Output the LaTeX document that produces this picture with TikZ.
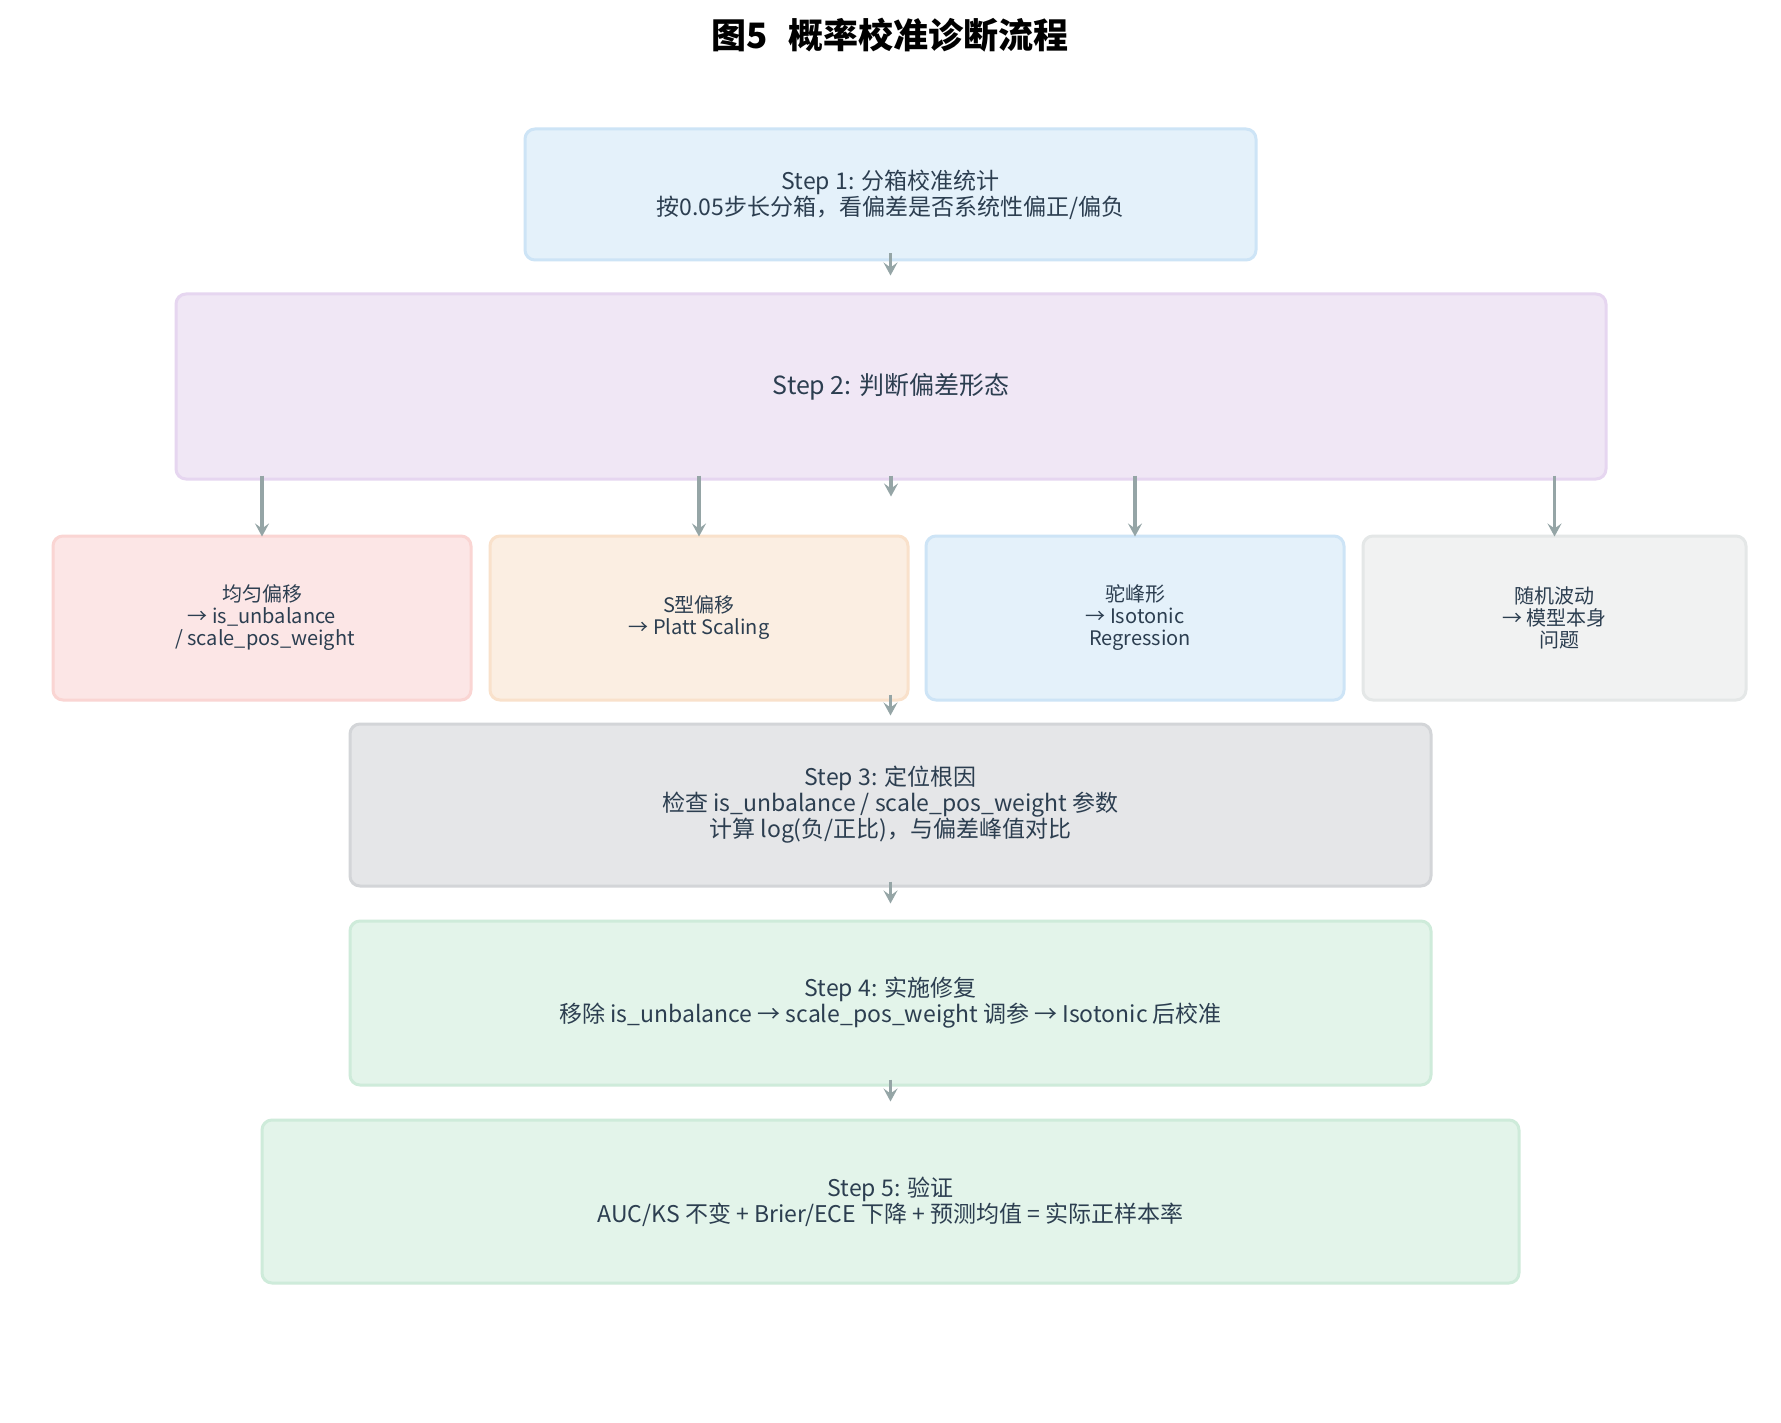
\documentclass[tikz,border=0pt]{standalone}
\usepackage{fontspec}
\setmainfont{Noto Sans CJK SC}
\usetikzlibrary{arrows.meta}
\definecolor{txt}{HTML}{2C3E50}
\definecolor{arrc}{HTML}{95A5A6}
\definecolor{blueF}{HTML}{E4F1FA}\definecolor{blueD}{HTML}{CDE4F6}
\definecolor{purpF}{HTML}{F0E7F5}\definecolor{purpD}{HTML}{E6D6F0}
\definecolor{redF}{HTML}{FCE6E6}\definecolor{redD}{HTML}{FAD5D3}
\definecolor{orgF}{HTML}{FBEEE2}\definecolor{orgD}{HTML}{F9E1CB}
\definecolor{gryF}{HTML}{F1F2F2}\definecolor{gryD}{HTML}{E4E7E7}
\definecolor{dgrF}{HTML}{E5E6E8}\definecolor{dgrD}{HTML}{D3D5D8}
\definecolor{grnF}{HTML}{E3F4EA}\definecolor{grnD}{HTML}{CEEBDA}
\begin{document}
\begin{tikzpicture}[x=1pt,y=-1pt,
  box/.style={draw, line width=3pt, rounded corners=10pt, align=center, text=txt, inner sep=0pt},
  bigtxt/.style={font=\fontsize{23}{26}\selectfont},
  smalltxt/.style={font=\fontsize{20}{22}\selectfont},
  arr/.style={draw=arrc, line width=3.5pt, -{Stealth[length=13pt,width=14pt,inset=5pt]}}]
\useasboundingbox[fill=white] (0,0) rectangle (1781,1423);

\node[font=\fontsize{35}{40}\selectfont\bfseries] (title) at (890,35) {图5\hspace{0.6em}概率校准诊断流程};

\node[box, bigtxt, fill=blueF, draw=blueD, minimum width=731pt, minimum height=131pt] (s1) at (890.5,194.5)
  {Step 1: 分箱校准统计\\按0.05步长分箱，看偏差是否系统性偏正/偏负};

\node[box, font=\fontsize{25}{28}\selectfont, fill=purpF, draw=purpD, minimum width=1430pt, minimum height=185pt] (s2) at (891,386.5)
  {Step 2: 判断偏差形态};

\node[box, smalltxt, fill=redF, draw=redD, minimum width=418pt, minimum height=164pt] (ba) at (262,618)
  {均匀偏移\\→ is\_unbalance\\\hspace*{0.3em}/ scale\_pos\_weight};
\node[box, smalltxt, fill=orgF, draw=orgD, minimum width=418pt, minimum height=164pt] (bb) at (699,618)
  {S型偏移\\→ Platt Scaling};
\node[box, smalltxt, fill=blueF, draw=blueD, minimum width=418pt, minimum height=164pt] (bc) at (1135,618)
  {驼峰形\\→ Isotonic\\\hspace*{0.5em}Regression};
\node[box, smalltxt, fill=gryF, draw=gryD, minimum width=383pt, minimum height=164pt] (bd) at (1554.5,618)
  {随机波动\\→ 模型本身\\\hspace*{0.5em}问题};

\node[box, bigtxt, fill=dgrF, draw=dgrD, minimum width=1081pt, minimum height=162pt] (s3) at (890.5,805)
  {Step 3: 定位根因\\检查 is\_unbalance / scale\_pos\_weight 参数\\计算 log(负/正比)，与偏差峰值对比};

\node[box, bigtxt, fill=grnF, draw=grnD, minimum width=1081pt, minimum height=164pt] (s4) at (890.5,1003)
  {Step 4: 实施修复\\移除 is\_unbalance → scale\_pos\_weight 调参 → Isotonic 后校准};

\node[box, bigtxt, fill=grnF, draw=grnD, minimum width=1257pt, minimum height=163pt] (s5) at (890.5,1201.5)
  {Step 5: 验证\\AUC/KS 不变 + Brier/ECE 下降 + 预测均值 = 实际正样本率};

% short centre arrows
\draw[arr] ([yshift=8pt]s1.south) -- ([yshift=-14pt]s1.south);
\draw[arr] ([yshift=5pt]s2.south) -- ([yshift=-16pt]s2.south);
\draw[arr] ([yshift=7pt]bb.south -| s3.north) -- ([yshift=-14pt]bb.south -| s3.north);
\draw[arr] ([yshift=6pt]s3.south) -- ([yshift=-16pt]s3.south);
\draw[arr] ([yshift=7pt]s4.south) -- ([yshift=-15pt]s4.south);

% branch arrows
\draw[arr] ([yshift=5pt]s2.south -| ba.north) -- ([yshift=-2pt]ba.north);
\draw[arr] ([yshift=5pt]s2.south -| bb.north) -- ([yshift=-2pt]bb.north);
\draw[arr] ([yshift=5pt]s2.south -| bc.north) -- ([yshift=-2pt]bc.north);
\draw[arr] ([yshift=5pt]s2.south -| bd.north) -- ([yshift=-2pt]bd.north);
\end{tikzpicture}
\end{document}
